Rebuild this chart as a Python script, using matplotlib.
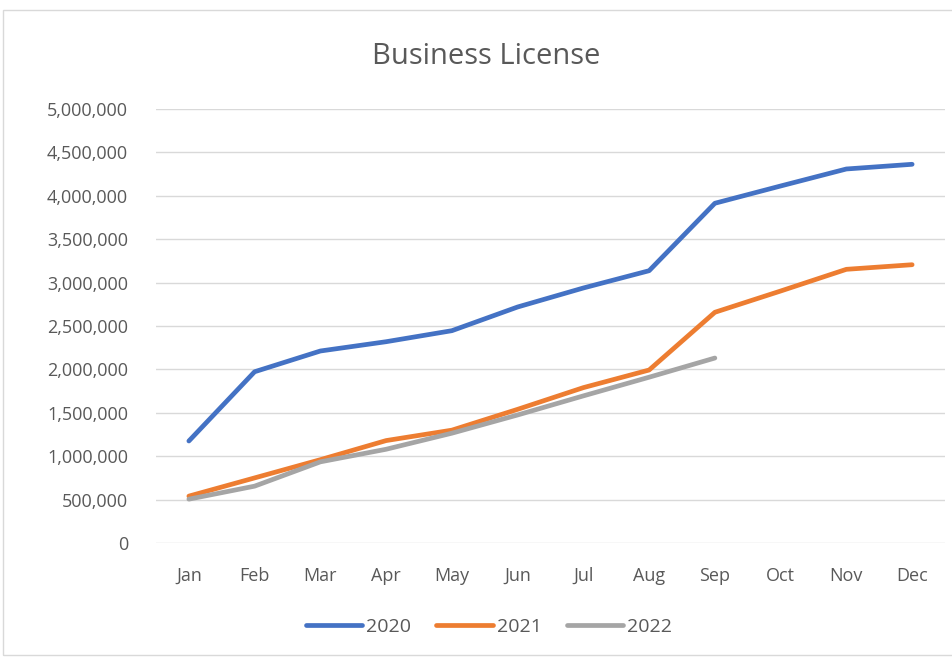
import matplotlib
matplotlib.use("Agg")
import matplotlib.pyplot as plt
from matplotlib.ticker import FuncFormatter, MultipleLocator
from matplotlib.patches import Rectangle

months = ["Jan", "Feb", "Mar", "Apr", "May", "Jun", "Jul", "Aug", "Sep", "Oct", "Nov", "Dec"]
v2020 = [1175000, 1973000, 2212000, 2319000, 2446000, 2719000, 2938000, 3137000, 3914000, 4113000, 4309000, 4363000]
v2021 = [540000, 750000, 960000, 1180000, 1300000, 1540000, 1790000, 1993000, 2658000, 2903000, 3153000, 3206000]
v2022 = [505000, 655000, 935000, 1080000, 1265000, 1475000, 1695000, 1910000, 2131000]

plt.rcParams['font.family'] = ['Open Sans', 'DejaVu Sans']
txt = "#595959"

fig = plt.figure(figsize=(9.53, 6.61), dpi=100)
fig.patches.append(Rectangle((3/953, 6/661), 0.999, 1 - 16/661, transform=fig.transFigure,
                             fill=False, edgecolor="#D9D9D9", linewidth=1))
ax = fig.add_axes([156/953, 1 - 543/661, (945 - 156)/953, (543 - 109)/661])

x = list(range(len(months)))
ax.plot(x, v2020, color="#4472C4", lw=3.4, solid_capstyle="round", label="2020")
ax.plot(x, v2021, color="#ED7D31", lw=3.4, solid_capstyle="round", label="2021")
ax.plot(x[:len(v2022)], v2022, color="#A5A5A5", lw=3.4, solid_capstyle="round", label="2022")

ax.set_xlim(-0.5, 11.5)
ax.set_ylim(0, 5000000)
ax.yaxis.set_major_locator(MultipleLocator(500000))
ax.yaxis.set_major_formatter(FuncFormatter(lambda v, p: f"{int(v):,}"))
ax.set_xticks(x)
ax.set_xticklabels(months)
ax.grid(axis="y", color="#D9D9D9", lw=1)
ax.set_axisbelow(True)
for s in ax.spines.values():
    s.set_visible(False)
ax.tick_params(axis="both", length=0, colors=txt, labelsize=13)
ax.tick_params(axis="y", pad=20)
ax.tick_params(axis="x", pad=17)

fig.text(486/953, 1 - 56/661, "Business License", ha="center", va="center", fontsize=21, color=txt)

leg = fig.legend(loc="center", bbox_to_anchor=(489/953, 1 - 627/661), ncol=3, frameon=False,
                 fontsize=14, handlelength=2.9, handletextpad=0.2, columnspacing=1.3)
for t in leg.get_texts():
    t.set_color(txt)

fig.savefig("out.png", dpi=100)
